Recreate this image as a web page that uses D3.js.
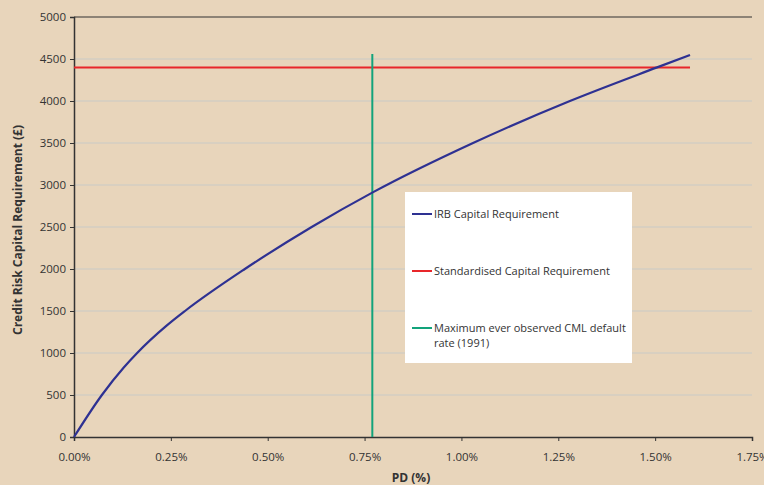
<!DOCTYPE html>
<html><head><meta charset="utf-8">
<script src="https://cdn.jsdelivr.net/npm/d3@7/dist/d3.min.js"></script>
<style>body{margin:0;background:#E8D5BB;}svg{display:block;font-family:"Open Sans",sans-serif;}</style>
</head><body><svg id="c" width="764" height="485"></svg>
<script>
const pd = [0, 0.072, 0.129, 0.163, 0.239, 0.2865, 0.441, 0.6135, 0.771, 1.03, 1.28, 1.505, 1.59];
const irb = [0, 500, 830, 1000, 1325, 1500, 2000, 2500, 2912, 3500, 4000, 4400, 4548];
const standardised = 4400;
const standardisedRange = [0, 1.59];
const maxDefaultPD = 0.77;
const maxDefaultRange = [0, 4560];
const xTicks = [0, 0.25, 0.5, 0.75, 1.0, 1.25, 1.5, 1.75];
const yTicks = [0, 500, 1000, 1500, 2000, 2500, 3000, 3500, 4000, 4500, 5000];
const legendLabels = [["IRB Capital Requirement"], ["Standardised Capital Requirement"], ["Maximum ever observed CML default", "rate (1991)"]];
const colors = ["#2E3192", "#E8262A", "#12A37B"];

const svg = d3.select("#c");
const x = d3.scaleLinear().domain([0, 1.75]).range([74, 752]);
const y = d3.scaleLinear().domain([0, 5000]).range([437, 17]);

// gridlines
svg.append("g").selectAll("line").data(yTicks.filter(d => d > 0 && d < 5000)).join("line")
  .attr("x1", x(0)).attr("x2", x(1.75)).attr("y1", d => y(d)).attr("y2", d => y(d))
  .attr("stroke", "#C9CAC6").attr("stroke-width", 1);

// top border
svg.append("line").attr("x1", x(0)).attr("x2", x(1.75)).attr("y1", y(5000)).attr("y2", y(5000))
  .attr("stroke", "#333").attr("stroke-width", 1.2);

// axes
const yAxis = d3.axisLeft(y).tickValues(yTicks).tickFormat(d3.format("d")).tickSize(4).tickPadding(4);
const gy = svg.append("g").attr("transform", `translate(${x(0)},0)`).call(yAxis);
const xAxis = d3.axisBottom(x).tickValues(xTicks).tickFormat(d => d.toFixed(2) + "%").tickSize(4).tickPadding(12);
const gx = svg.append("g").attr("transform", `translate(0,${y(0)})`).call(xAxis);
[gx, gy].forEach(g => {
  g.select(".domain").attr("stroke", "#333").attr("stroke-width", 1.5);
  g.selectAll(".tick line").attr("stroke", "#333");
  g.selectAll(".tick text").attr("fill", "#333").style("font-size", "11.5px").style("font-family", "'Open Sans',sans-serif");
});

// legend box
const lg = svg.append("g");
lg.append("rect").attr("x", 405).attr("y", 192).attr("width", 227).attr("height", 171).attr("fill", "#fff");

// lines
svg.append("line").attr("x1", x(standardisedRange[0])).attr("x2", x(standardisedRange[1]))
  .attr("y1", y(standardised)).attr("y2", y(standardised)).attr("stroke", colors[1]).attr("stroke-width", 2);
svg.append("line").attr("x1", x(maxDefaultPD)).attr("x2", x(maxDefaultPD))
  .attr("y1", y(maxDefaultRange[0])).attr("y2", y(maxDefaultRange[1])).attr("stroke", colors[2]).attr("stroke-width", 2);
const line = d3.line().x((d, i) => x(pd[i])).y(d => y(d)).curve(d3.curveMonotoneX);
svg.append("path").datum(irb).attr("d", line).attr("fill", "none").attr("stroke", colors[0]).attr("stroke-width", 2.2);

// legend entries
const ly = [214, 271, 328];
legendLabels.forEach((lbl, i) => {
  lg.append("line").attr("x1", 412).attr("x2", 432).attr("y1", ly[i]).attr("y2", ly[i]).attr("stroke", colors[i]).attr("stroke-width", 2);
  lbl.forEach((t, j) => {
    lg.append("text").attr("x", 434).attr("y", ly[i] + 4 + j * 14.5).text(t)
      .attr("fill", "#333").style("font-size", "11px");
  });
});

// axis titles
svg.append("text").attr("x", 411).attr("y", 482).attr("text-anchor", "middle").text("PD (%)")
  .attr("fill", "#333").style("font-size", "12px").style("font-weight", "bold");
svg.append("text").attr("transform", "translate(22,230) rotate(-90)").attr("text-anchor", "middle")
  .text("Credit Risk Capital Requirement  (£)").attr("fill", "#333").style("font-size", "12px").style("font-weight", "bold");
</script></body></html>
